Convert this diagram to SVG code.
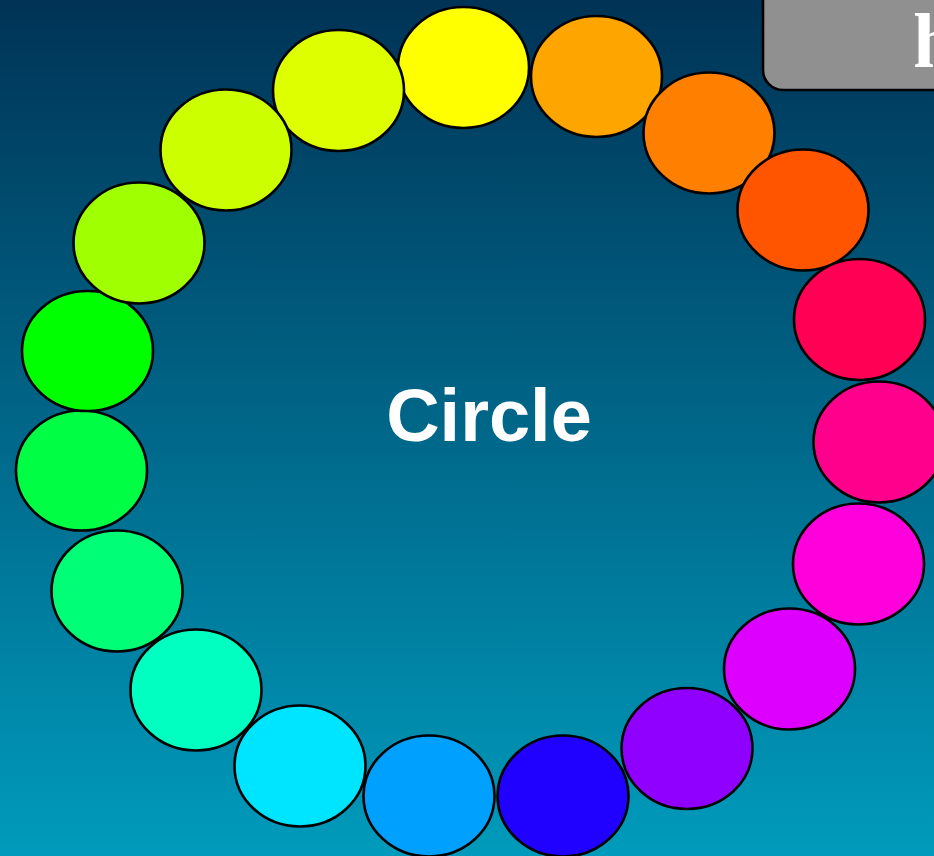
<svg xmlns="http://www.w3.org/2000/svg" width="934" height="856" viewBox="0 0 934 856">
<defs>
<linearGradient id="bg" x1="0" y1="0" x2="0" y2="1">
<stop offset="0" stop-color="#003356"/>
<stop offset="1" stop-color="#009BBC"/>
</linearGradient>
</defs>
<style>
.n ellipse{stroke:#000;stroke-width:2.6}
.lbl{font-family:"Liberation Sans",Arial,sans-serif;font-weight:bold;fill:#fff}
.ttl{font-family:"Liberation Serif","Times New Roman",serif;font-weight:bold;fill:#fff}
</style>
<rect x="0" y="0" width="934" height="856" fill="url(#bg)"/>
<g id="header">
<rect x="763" y="-30" width="200" height="120" rx="20" ry="20" fill="#909090" stroke="#000" stroke-width="2.6"/>
<text class="ttl" x="913" y="67" font-size="78">h</text>
</g>
<g id="connectors"></g>
<g id="nodes" class="n">
<g id="c02"><ellipse cx="596.5" cy="76.5" rx="65.5" ry="60.5" fill="#FFA500"/></g>
<g id="c03"><ellipse cx="709" cy="133" rx="65.5" ry="60.5" fill="#FF8000"/></g>
<g id="c04"><ellipse cx="803" cy="210" rx="65.5" ry="60.5" fill="#FF5500"/></g>
<g id="c05"><ellipse cx="859.5" cy="319.5" rx="65.5" ry="60.5" fill="#FF0055"/></g>
<g id="c06"><ellipse cx="879" cy="442" rx="65.5" ry="60.5" fill="#FF008C"/></g>
<g id="c07"><ellipse cx="858.5" cy="564" rx="65.5" ry="60.5" fill="#FF00DD"/></g>
<g id="c08"><ellipse cx="789.5" cy="669" rx="65.5" ry="60.5" fill="#DD00FF"/></g>
<g id="c09"><ellipse cx="687" cy="748.5" rx="65.5" ry="60.5" fill="#9000FF"/></g>
<g id="c10"><ellipse cx="563" cy="796" rx="65.5" ry="60.5" fill="#2000FF"/></g>
<g id="c11"><ellipse cx="429" cy="796" rx="65.5" ry="60.5" fill="#00A0FF"/></g>
<g id="c12"><ellipse cx="300" cy="766" rx="65.5" ry="60.5" fill="#00E5FF"/></g>
<g id="c13"><ellipse cx="196" cy="690" rx="65.5" ry="60.5" fill="#00FFC0"/></g>
<g id="c14"><ellipse cx="117" cy="591" rx="65.5" ry="60.5" fill="#00FF77"/></g>
<g id="c15"><ellipse cx="81.5" cy="470.5" rx="65.5" ry="60" fill="#00FF44"/></g>
<g id="c16"><ellipse cx="87.5" cy="351" rx="65.5" ry="60" fill="#00FF00"/></g>
<g id="c17"><ellipse cx="139" cy="243" rx="65.5" ry="60.5" fill="#A0FF00"/></g>
<g id="c01"><ellipse cx="463.5" cy="67.5" rx="65.5" ry="60.5" fill="#FFFF00"/></g>
<g id="c19"><ellipse cx="338.5" cy="90.5" rx="65.5" ry="60.5" fill="#DDFF00"/></g>
<g id="c18"><ellipse cx="226" cy="150" rx="65.5" ry="60.5" fill="#CCFF00"/></g>
</g>
<g id="center">
<text class="lbl" x="489" y="441" font-size="74" text-anchor="middle">Circle</text>
</g>
</svg>
